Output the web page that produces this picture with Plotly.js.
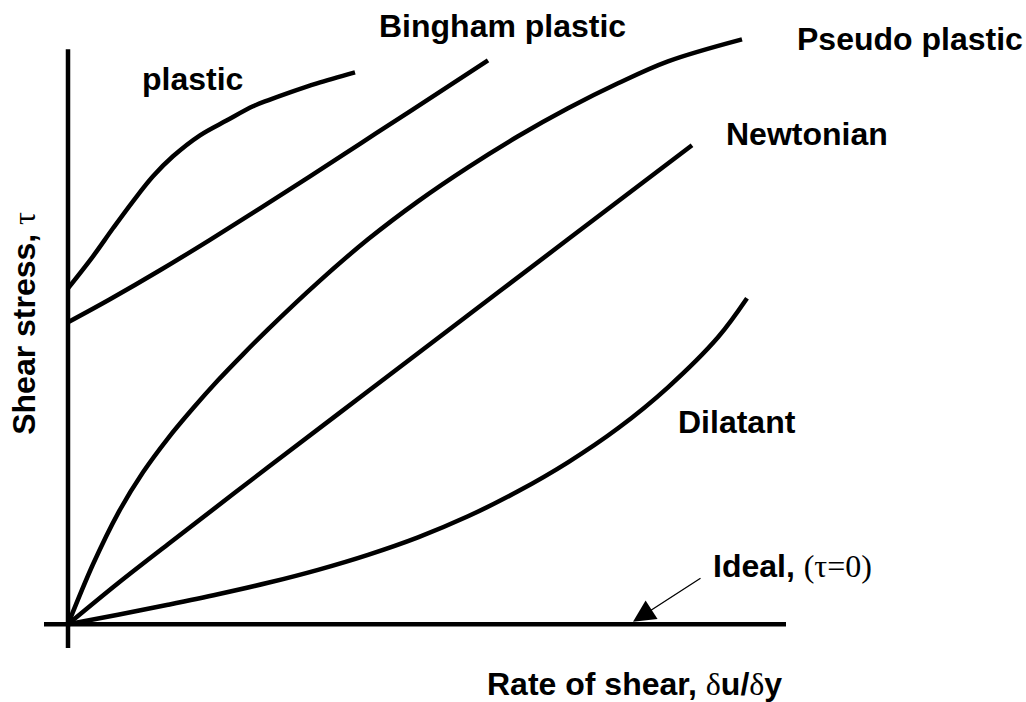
<!DOCTYPE html>
<html>
<head>
<meta charset="utf-8">
<script src="https://cdn.plot.ly/plotly-3.0.1.min.js"></script>
<style>
  html, body { margin: 0; padding: 0; background: #ffffff; }
  #chart { width: 1026px; height: 702px; }
</style>
</head>
<body>
<div id="chart"></div>
<script>
// ---- Data (rate of shear x, shear stress y; arbitrary units) ----
var plasticX    = [0, 2.5, 4.5, 6.5, 8.5, 10.5, 13.2, 15.9, 18.5, 20, 22.2, 24.9, 28.7];
var plasticY    = [33.6, 36.8, 39.6, 42.3, 44.8, 46.8, 48.9, 50.4, 51.8, 52.4, 53.2, 54.1, 55.2];

var binghamX    = [0, 4.2, 9.2, 14.2, 19.2, 24.2, 29.2, 34.2, 42.0];
var binghamY    = [30.2, 32.5, 35.4, 38.45, 41.6, 44.8, 48.05, 51.3, 56.4];

var pseudoX     = [0, 2.5, 5, 7.5, 10, 12.5, 15, 17.5, 20, 25, 30, 35, 40, 45, 50, 55, 60, 67.4];
var pseudoY     = [0, 6.0, 11.1, 15.2, 18.6, 21.6, 24.4, 27.0, 29.5, 34.2, 38.5, 42.3, 45.7, 48.8, 51.6, 54.1, 56.3, 58.5];

var newtonianX  = [0, 5, 10, 20, 30, 40, 50, 62.4];
var newtonianY  = [0, 4.1, 8.0, 15.7, 23.3, 30.9, 38.5, 47.9];

var dilatantX   = [0, 5, 10, 15, 20, 25, 30, 35, 40, 45, 50, 55, 60, 65, 67.9];
var dilatantY   = [0, 0.95, 1.95, 3.0, 4.15, 5.45, 6.95, 8.7, 10.8, 13.3, 16.2, 19.6, 23.7, 28.7, 32.6];

// axis lines (the horizontal axis is also the "Ideal" fluid line, tau = 0)
var xAxisLineX  = [-2.4, 71.8];
var xAxisLineY  = [0, 0];
var yAxisLineX  = [0, 0];
var yAxisLineY  = [-2.37, 57.5];

// arrow pointing to the Ideal line: head and tail points
var idealArrowHead = [56.5, 0.25];
var idealArrowTail = [63.4, 4.7];

var curveNames  = ["plastic", "Bingham plastic", "Pseudo plastic", "Newtonian", "Dilatant"];

// ---- Traces ----
var lineStyle = { color: "#000000", width: 4.5 };
function curve(x, y, name, shape) {
  return { type: "scatter", mode: "lines", x: x, y: y, name: name,
           line: Object.assign({ shape: shape || "spline", smoothing: 1 }, lineStyle),
           hoverinfo: "skip" };
}

var data = [
  curve(xAxisLineX, xAxisLineY, "x axis", "linear"),
  curve(yAxisLineX, yAxisLineY, "y axis", "linear"),
  curve(plasticX, plasticY, curveNames[0]),
  curve(binghamX, binghamY, curveNames[1]),
  curve(pseudoX, pseudoY, curveNames[2]),
  curve(newtonianX, newtonianY, curveNames[3]),
  curve(dilatantX, dilatantY, curveNames[4])
];

var boldFont = { family: "Liberation Sans, Arial, sans-serif", size: 32, color: "#000000", weight: "bold" };
var serif = 'font-family:Liberation Serif, Times New Roman, serif;font-weight:normal';

function label(text, x, y, extra) {
  return Object.assign({ text: text, x: x, y: y, xref: "x", yref: "y",
                         xanchor: "left", yanchor: "middle", showarrow: false,
                         font: boldFont }, extra || {});
}

var annotations = [
  label(curveNames[0], 7.2, 54.55),
  label(curveNames[1], 30.85, 59.87),
  label(curveNames[2], 72.7, 58.55),
  label(curveNames[3], 65.55, 49.05),
  label(curveNames[4], 60.8, 20.2),
  label('Ideal, <span style="' + serif + '">(τ=0)</span>', 64.27, 5.8),
  label('Rate of shear, <span style="' + serif + '">δ</span>u/<span style="' + serif + '">δ</span>y', 41.65, -5.97),
  label('Shear stress, <span style="' + serif + '">τ</span>', -4.35, 30.1,
        { xanchor: "center", yanchor: "middle", textangle: -90 }),
  {
    x: idealArrowHead[0], y: idealArrowHead[1], xref: "x", yref: "y",
    ax: idealArrowTail[0], ay: idealArrowTail[1], axref: "x", ayref: "y",
    text: "", showarrow: true, arrowhead: 2, arrowsize: 3.4, arrowwidth: 1.3,
    arrowcolor: "#000000", standoff: 0, startstandoff: 0
  }
];

var layout = {
  width: 1026, height: 702,
  margin: { l: 0, r: 0, t: 0, b: 0, pad: 0 },
  paper_bgcolor: "#ffffff", plot_bgcolor: "#ffffff",
  showlegend: false,
  xaxis: { range: [-6.8, 95.8], visible: false, fixedrange: true },
  yaxis: { range: [-7.77, 62.43], visible: false, fixedrange: true },
  annotations: annotations
};

Plotly.newPlot("chart", data, layout, { staticPlot: true, displayModeBar: false });
</script>
</body>
</html>
